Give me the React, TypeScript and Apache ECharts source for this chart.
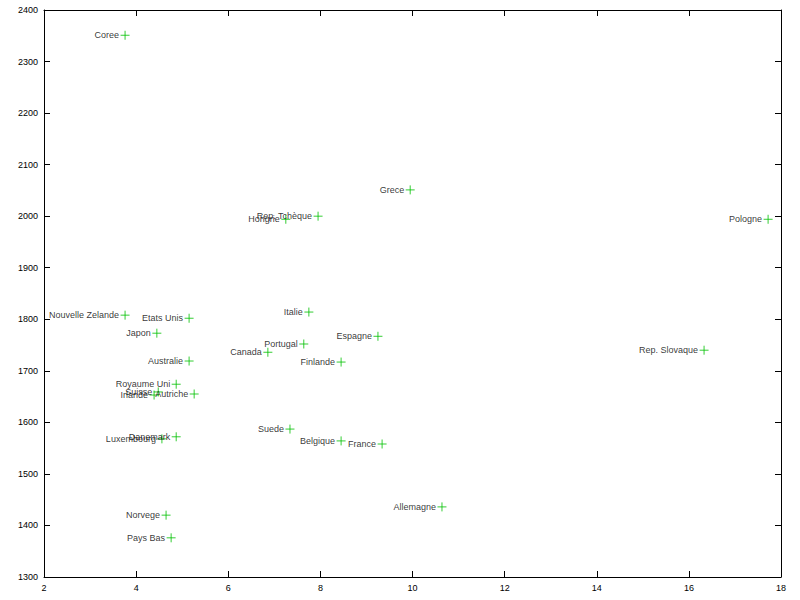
import React, { useEffect, useRef } from "react";
import * as echarts from "echarts";

const countries = [
  "Coree", "Grece", "Rep. Tchèque", "Hongrie", "Pologne", "Nouvelle Zelande", "Etats Unis",
  "Italie", "Japon", "Espagne", "Portugal", "Canada", "Rep. Slovaque", "Australie", "Finlande",
  "Royaume Uni", "Suisse", "Irlande", "Autriche", "Danemark", "Luxembourg", "Suede", "Belgique",
  "France", "Allemagne", "Norvege", "Pays Bas",
];
const xValues = [
  3.76, 9.95, 7.95, 7.25, 17.72, 3.76, 5.15,
  7.75, 4.45, 9.25, 7.64, 6.86, 16.33, 5.15, 8.45,
  4.87, 4.48, 4.39, 5.26, 4.87, 4.56, 7.34, 8.45,
  9.34, 10.64, 4.65, 4.76,
];
const yValues = [
  2351, 2051, 2000, 1994, 1994, 1808, 1802,
  1814, 1773, 1767, 1752, 1736, 1740, 1719, 1717,
  1674, 1659, 1653, 1655, 1572, 1568, 1587, 1564,
  1558, 1436, 1420, 1376,
];

const FONT = "Liberation Sans";

export default function App() {
  const ref = useRef<HTMLDivElement>(null);
  useEffect(() => {
    const chart = echarts.init(ref.current!, null, { renderer: "svg" });
    const data = countries.map((n, i) => ({ name: n, value: [xValues[i], yValues[i]] }));
    const axisCommon = {
      axisLine: { show: true, onZero: false, lineStyle: { color: "#000", width: 1 } },
      axisTick: { show: true, inside: true, length: 6, lineStyle: { color: "#000" } },
      splitLine: { show: false },
    };
    const plain = (v: number) => String(v);
    chart.setOption({
      animation: false,
      backgroundColor: "#fff",
      grid: { left: 44, right: 19, top: 10, bottom: 23, containLabel: false },
      xAxis: [
        {
          type: "value", min: 2, max: 18, interval: 2, position: "bottom",
          ...axisCommon,
          axisLabel: { color: "#000", fontSize: 9, fontFamily: FONT, margin: 6, formatter: plain },
        },
        {
          type: "value", min: 2, max: 18, interval: 2, position: "top",
          ...axisCommon,
          axisLabel: { show: false },
        },
      ],
      yAxis: [
        {
          type: "value", min: 1300, max: 2400, interval: 100, position: "left",
          ...axisCommon,
          axisLabel: { color: "#000", fontSize: 9, fontFamily: FONT, margin: 6, formatter: plain },
        },
        {
          type: "value", min: 1300, max: 2400, interval: 100, position: "right",
          ...axisCommon,
          axisLabel: { show: false },
        },
      ],
      series: [
        {
          type: "scatter",
          xAxisIndex: 0,
          yAxisIndex: 0,
          data,
          symbol: "path://M0,5L10,5M5,0L5,10",
          symbolSize: 9,
          itemStyle: { color: "none", borderColor: "#00c000", borderWidth: 1 },
          label: {
            show: true,
            position: "left",
            distance: -1,
            formatter: "{b}",
            color: "#000",
            fontSize: 9,
            fontFamily: FONT,
          },
          emphasis: { disabled: true },
        },
      ],
    });
    return () => chart.dispose();
  }, []);
  return <div ref={ref} style={{ width: 800, height: 600, position: "absolute", left: 0, top: 0 }} />;
}
